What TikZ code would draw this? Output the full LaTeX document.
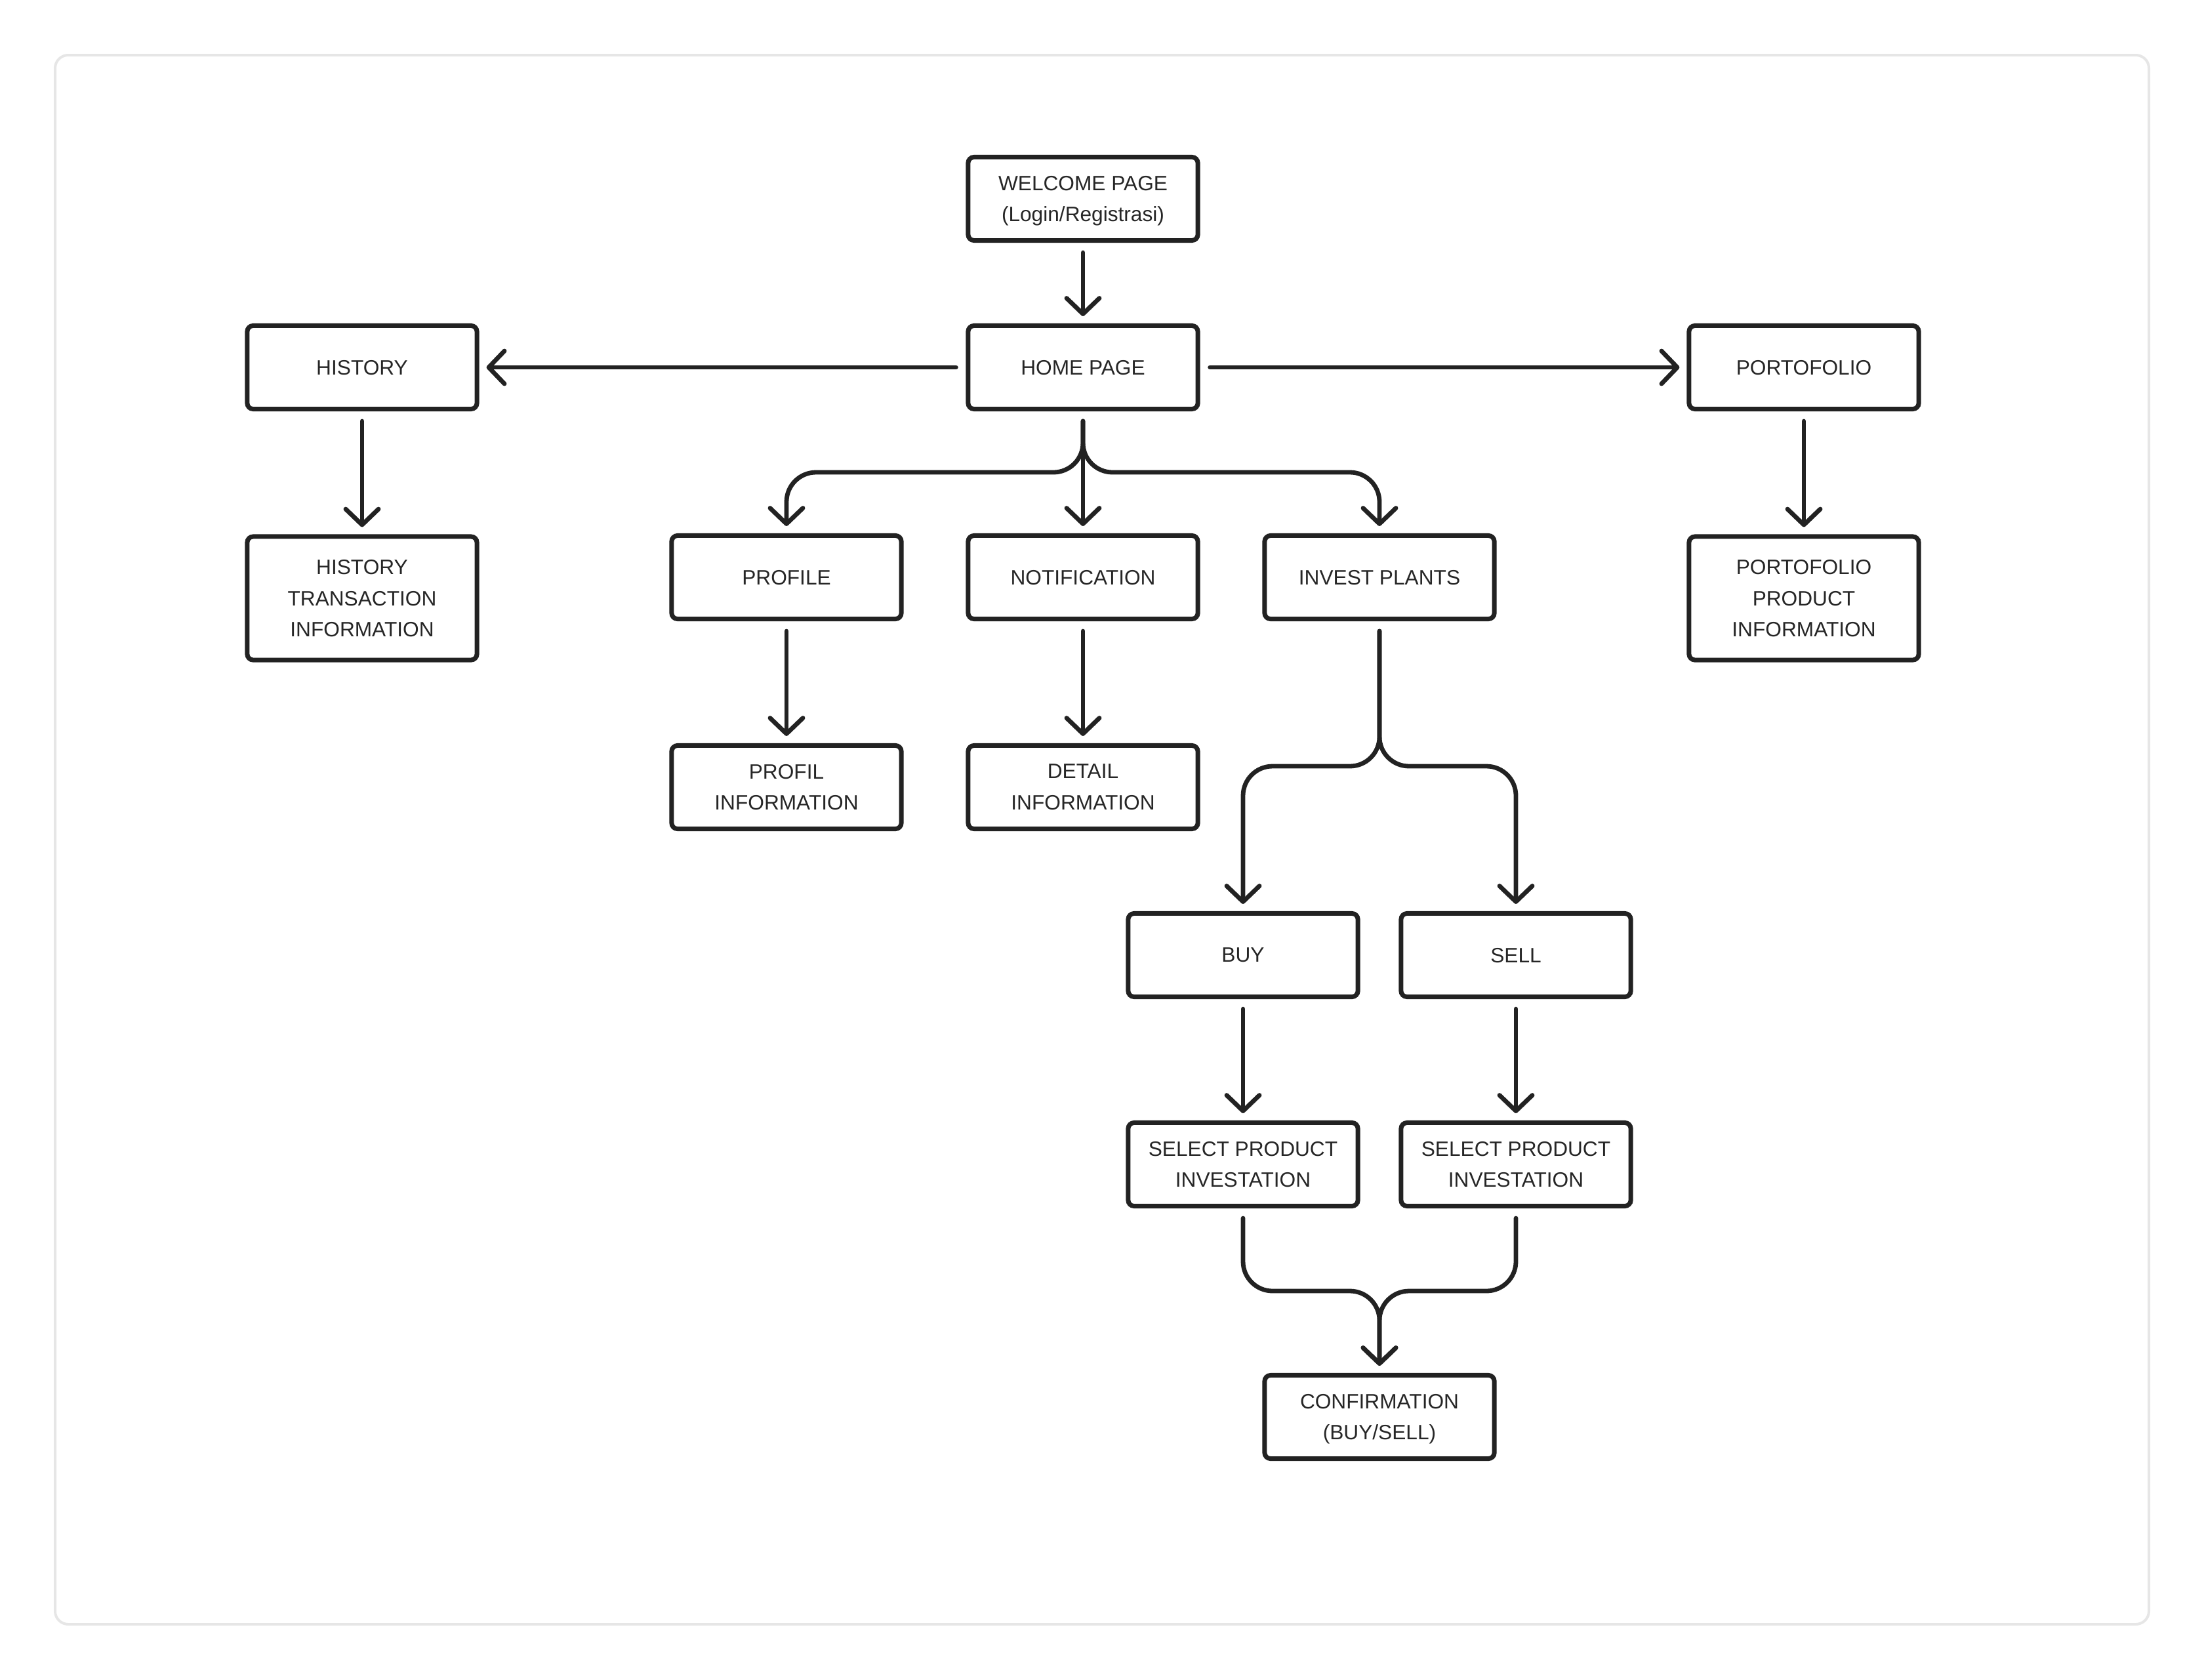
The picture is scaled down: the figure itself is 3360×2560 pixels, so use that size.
\documentclass[tikz,border=0pt]{standalone}
\usepackage{fontspec}
\setmainfont{Liberation Sans}
\usetikzlibrary{arrows.meta}
\definecolor{ink}{HTML}{222222}
\definecolor{txt}{HTML}{262626}
\definecolor{framegray}{HTML}{E6E6E6}
\begin{document}
\begin{tikzpicture}[x=0.01cm,y=-0.01cm,
  box/.style={draw=ink, line width=0.07cm, rounded corners=0.09cm,
    minimum width=3.5cm, minimum height=1.27cm, align=center, text=txt,
    font=\fontsize{9pt}{13.6pt}\selectfont, inner sep=0pt, text depth=0pt},
  tallbox/.style={box, minimum height=1.88cm},
  conn/.style={draw=ink, line width=0.068cm, line cap=round, line join=round,
    -{Straight Barb[length=0.24cm,width=0.5cm,round]},
    shorten <=0.15cm, shorten >=0.11cm},
  bendconn/.style={conn, rounded corners=0.45cm}]
\useasboundingbox (0,0) rectangle (3360,2560);
\draw[framegray, line width=0.04cm, rounded corners=0.2cm] (84,84) rectangle (3276,2476);

\node[box] (welcome) at (1651,303) {WELCOME PAGE\\(Login/Registrasi)};
\node[box] (home) at (1651,560) {HOME PAGE};
\node[box] (history) at (552,560) {HISTORY};
\node[box] (portofolio) at (2750,560) {PORTOFOLIO};
\node[tallbox] (histinfo) at (552,912) {HISTORY\\TRANSACTION\\INFORMATION};
\node[tallbox] (portinfo) at (2750,912) {PORTOFOLIO\\PRODUCT\\INFORMATION};
\node[box] (profile) at (1199,880) {PROFILE};
\node[box] (notif) at (1651,880) {NOTIFICATION};
\node[box] (invest) at (2103,880) {INVEST PLANTS};
\node[box] (profinfo) at (1199,1200) {PROFIL\\INFORMATION};
\node[box] (detail) at (1651,1200) {DETAIL\\INFORMATION};
\node[box] (buy) at (1895,1456) {BUY};
\node[box] (sell) at (2311,1456) {SELL};
\node[box] (selbuy) at (1895,1775) {SELECT PRODUCT\\INVESTATION};
\node[box] (selsell) at (2311,1775) {SELECT PRODUCT\\INVESTATION};
\node[box] (confirm) at (2103,2160) {CONFIRMATION\\(BUY/SELL)};

\coordinate (bar1) at (0,720);
\coordinate (bar2) at (0,1168);
\coordinate (bar3) at (0,1968);

\draw[conn] (welcome.south) -- (home.north);
\draw[conn] (home.west) -- (history.east);
\draw[conn] (home.east) -- (portofolio.west);
\draw[conn] (history.south) -- (histinfo.north);
\draw[conn] (portofolio.south) -- (portinfo.north);

\draw[conn] (home.south) -- (notif.north);
\draw[bendconn] (home.south) -- (home.south |- bar1) -- (profile.north |- bar1) -- (profile.north);
\draw[bendconn] (home.south) -- (home.south |- bar1) -- (invest.north |- bar1) -- (invest.north);

\draw[conn] (profile.south) -- (profinfo.north);
\draw[conn] (notif.south) -- (detail.north);

\draw[bendconn] (invest.south) -- (invest.south |- bar2) -- (buy.north |- bar2) -- (buy.north);
\draw[bendconn] (invest.south) -- (invest.south |- bar2) -- (sell.north |- bar2) -- (sell.north);

\draw[conn] (buy.south) -- (selbuy.north);
\draw[conn] (sell.south) -- (selsell.north);

\draw[bendconn] (selbuy.south) -- (selbuy.south |- bar3) -- (confirm.north |- bar3) -- (confirm.north);
\draw[bendconn] (selsell.south) -- (selsell.south |- bar3) -- (confirm.north |- bar3) -- (confirm.north);
\end{tikzpicture}
\end{document}
